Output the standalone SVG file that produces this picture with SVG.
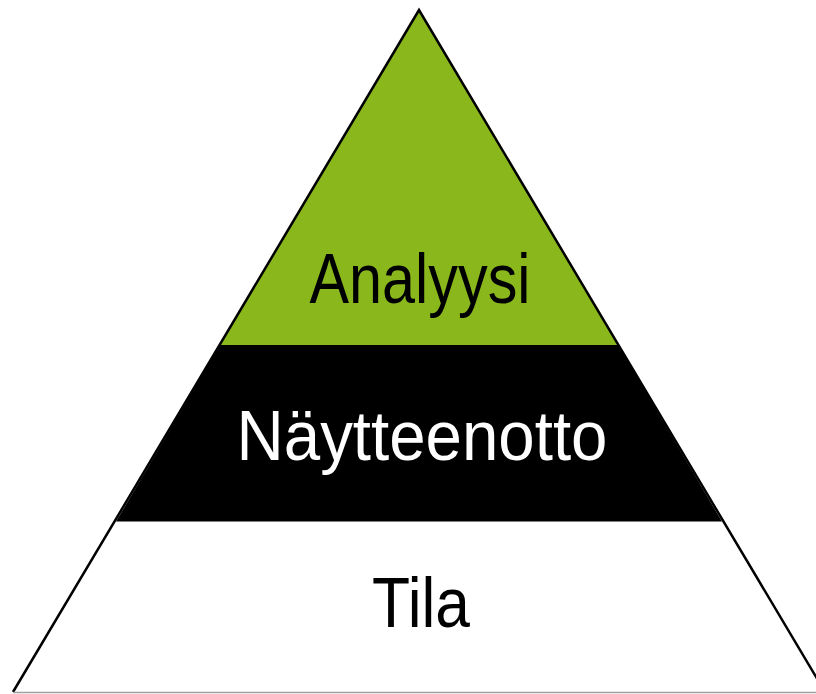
<svg xmlns="http://www.w3.org/2000/svg" width="816" height="694" viewBox="0 0 816 694">
<style>
.lbl{font-family:"Liberation Sans",Arial,sans-serif;font-size:70px;text-anchor:middle}
</style>
<rect width="816" height="694" fill="#ffffff"/>
<g id="layer-tila">
<polygon points="116,521.5 722,521.5 825,692 13,692" fill="#ffffff"/>
<text class="lbl" x="421" y="627" textLength="98" lengthAdjust="spacingAndGlyphs" fill="#000000">Tila</text>
</g>
<g id="layer-naytteenotto">
<polygon points="220,345 618,345 722,521.5 116,521.5" fill="#000000"/>
<text class="lbl" x="422" y="460" textLength="371" lengthAdjust="spacingAndGlyphs" fill="#ffffff">Näytteenotto</text>
</g>
<g id="layer-analyysi">
<polygon points="419,10 618,345 220,345" fill="#8ab81c"/>
<text class="lbl" x="420" y="303" textLength="221" lengthAdjust="spacingAndGlyphs" fill="#000000">Analyysi</text>
</g>
<g id="connectors">
<polyline points="13,692 419,10 825,692" fill="none" stroke="#000000" stroke-width="2.5" stroke-linejoin="miter"/>
<line x1="13" y1="692.5" x2="816" y2="692.5" stroke="#a0a0a0" stroke-width="1.5"/>
</g>
</svg>
